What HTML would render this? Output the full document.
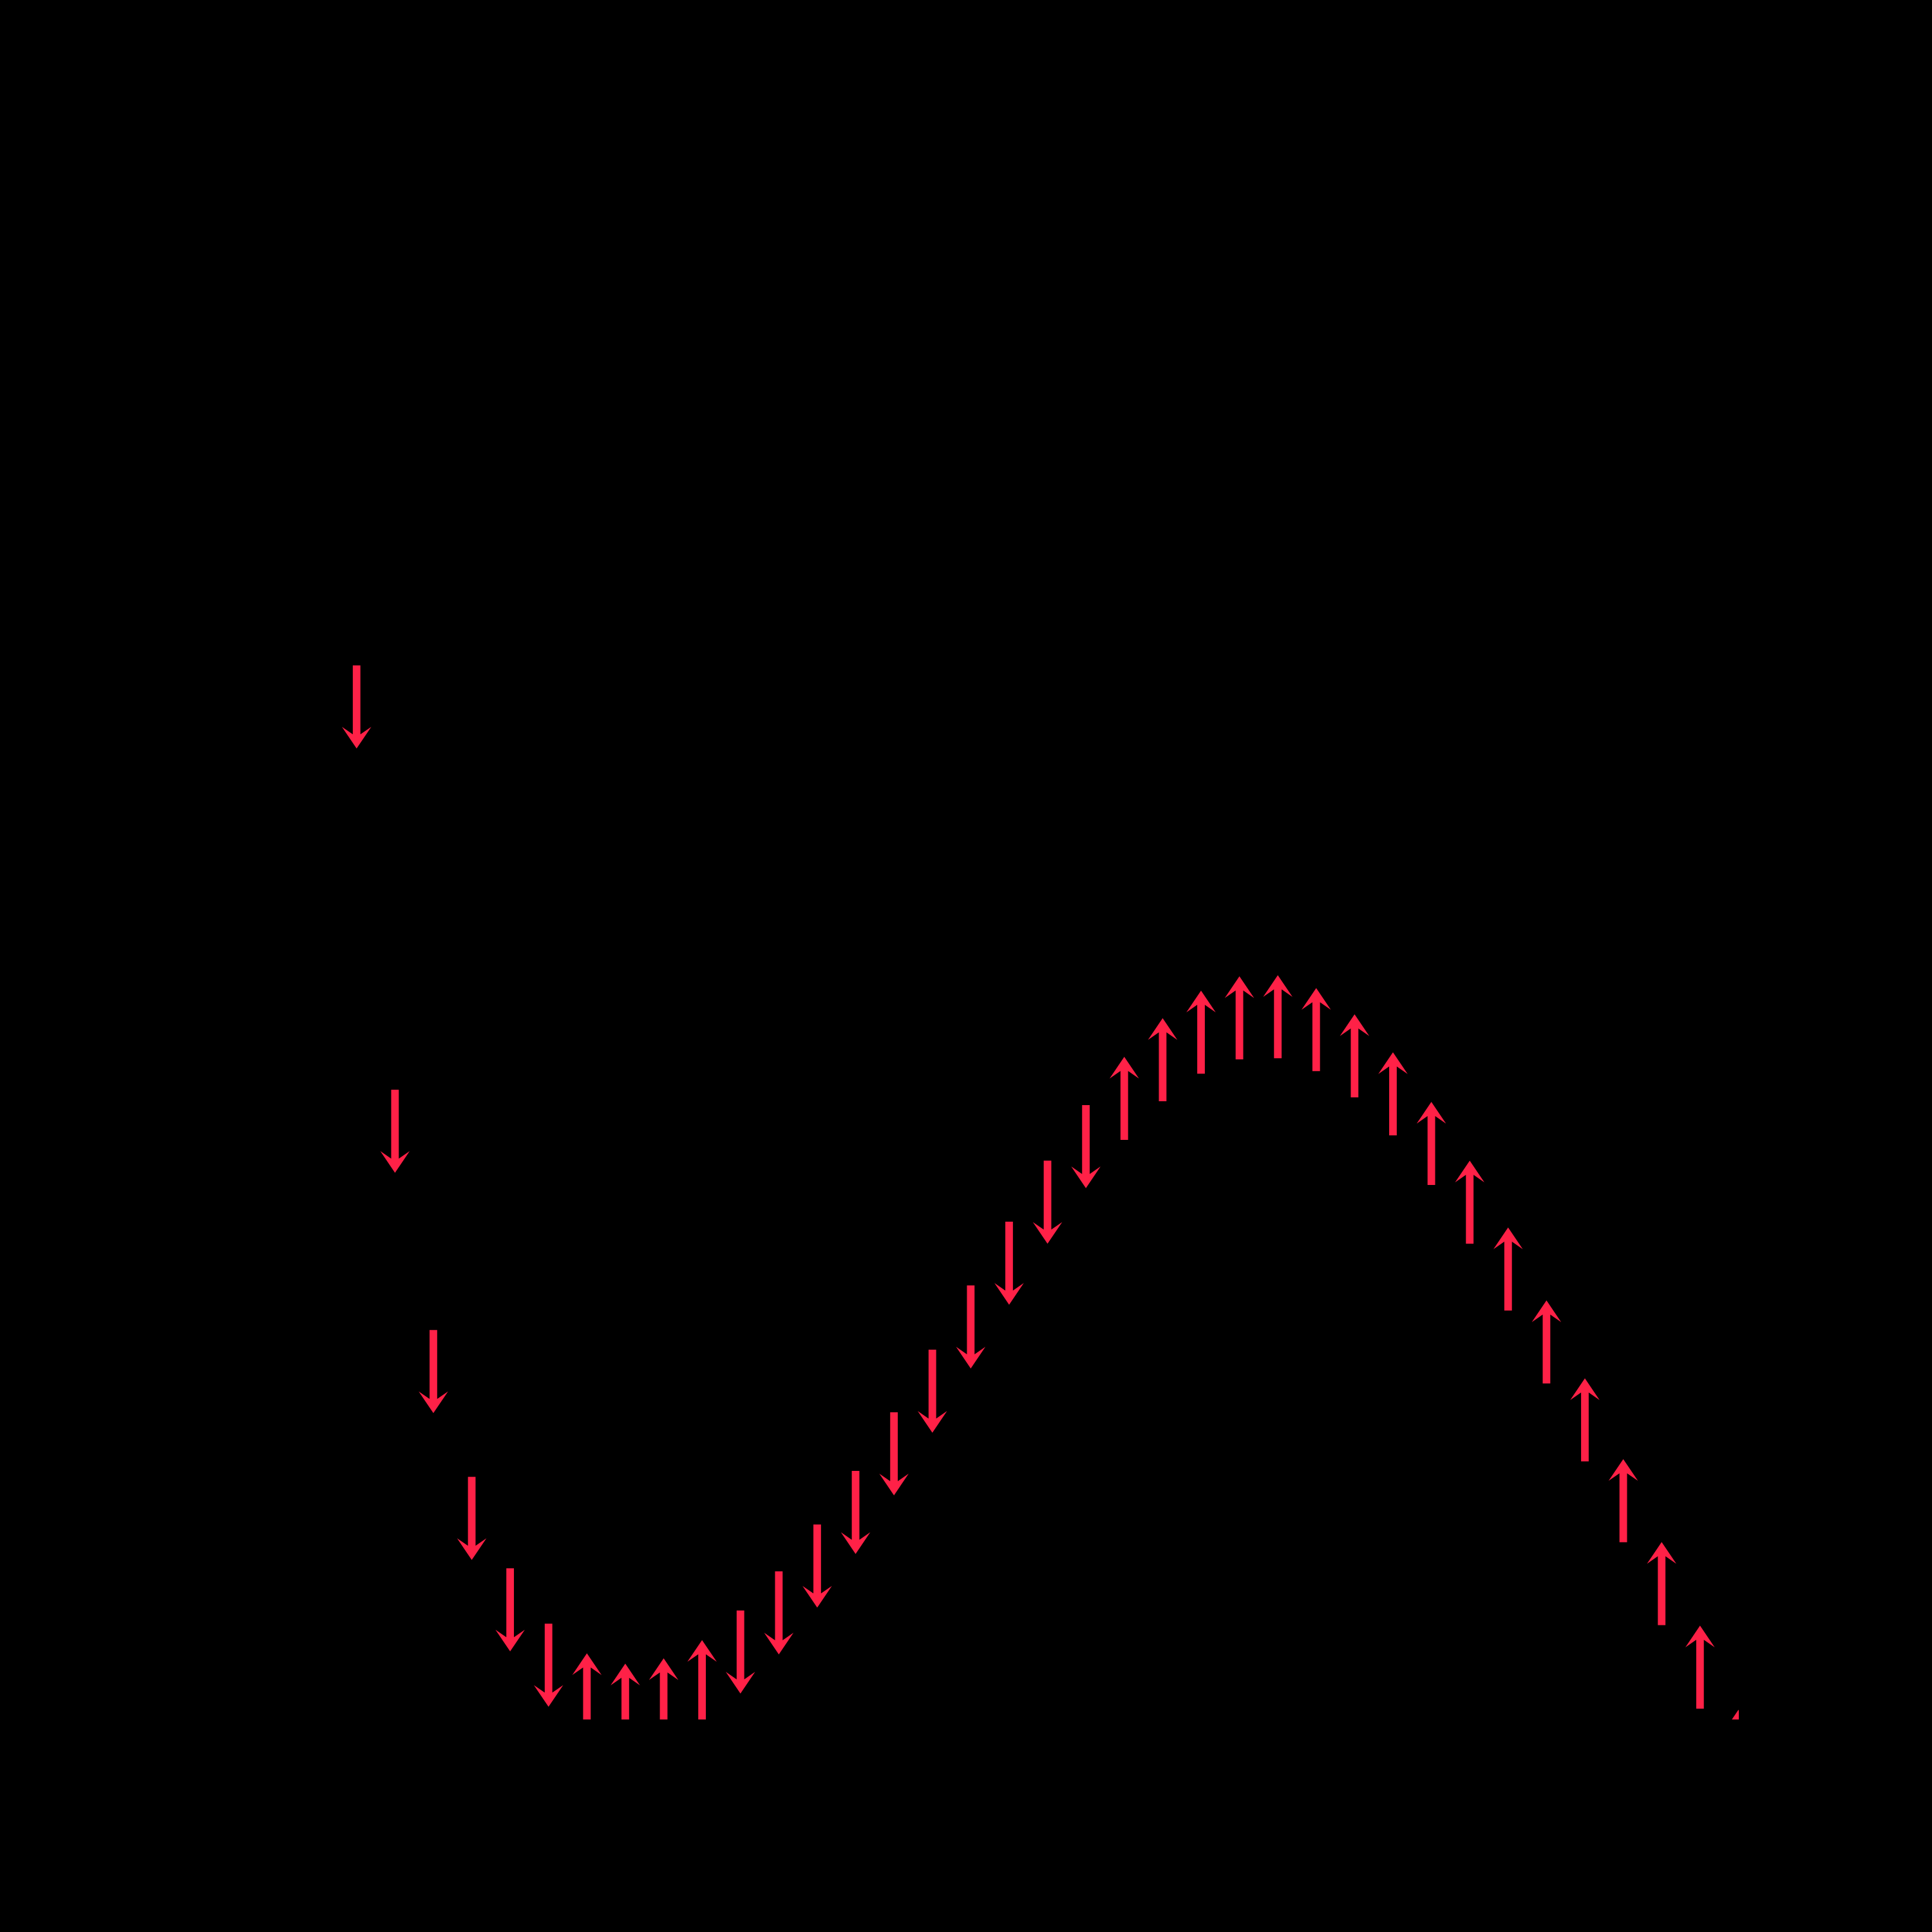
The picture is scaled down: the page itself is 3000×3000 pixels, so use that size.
<!DOCTYPE html>
<html lang="en">
<head>
<meta charset="utf-8">
<title>Quiver chart</title>
<style>
  html, body { margin: 0; padding: 0; background: #000; }
  #chart { display: block; width: 3000px; height: 3000px; background: #000; }
</style>
</head>
<body>
<svg id="chart" xmlns="http://www.w3.org/2000/svg" width="3000" height="3000" viewBox="0 0 3000 3000">
  <defs>
    <clipPath id="plot-clip"><rect x="300" y="330" width="2400" height="2340"></rect></clipPath>
  </defs>
  <rect x="0" y="0" width="3000" height="3000" fill="#000000"></rect>
  <rect x="300" y="330" width="2400" height="2340" fill="none" stroke="#000000" stroke-width="4"></rect>
  <g id="arrows" clip-path="url(#plot-clip)"></g>
</svg>
<script>
// Sample positions along the x axis
const xValues = [0,1,2,3,4,5,6,7,8,9,10,11,12,13,14,15,16,17,18,19,20,21,22,23,24,25,26,27,28,29,30,31,32,33,34,35,36];
// Arrow tail height
const yValues = [1636.7,977.9,604.7,376.7,234.7,148.7,-26.3,-42.3,-34,-5.7,169.3,230,302.7,386,477,574.3,674,773,867.7,954,900,960,1002.7,1025,1026.7,1006.7,966,907,830,738.7,635,521.7,400.7,275.3,146.5,16.7,-114];
// Vector direction at each sample: 1 points up, -1 points down
const directions = [-1,-1,-1,-1,-1,-1,1,1,1,1,-1,-1,-1,-1,-1,-1,-1,-1,-1,-1,1,1,1,1,1,1,1,1,1,1,1,1,1,1,1,1,1];

const xDomain = [-4.257, 36.01];
const yDomain = [0, 2340];
const plotLeft = 300, plotRight = 2700, plotBottom = 2670, plotTop = 330;

function xScale(v) {
  return plotLeft + (v - xDomain[0]) / (xDomain[1] - xDomain[0]) * (plotRight - plotLeft);
}
function yScale(v) {
  return plotBottom - (v - yDomain[0]) / (yDomain[1] - yDomain[0]) * (plotBottom - plotTop);
}

const arrowLength = 129;
const shaftHalf = 5.9;
const headHalf = 22.8;
const headLength = 33.7;
const notchLength = 22;

function arrowPoints(x, tailY, dir) {
  const s = -dir; // screen direction: negative y is up
  const tipY = tailY + s * arrowLength;
  const wingY = tipY - s * headLength;
  const notchY = tipY - s * notchLength;
  return [
    [x - shaftHalf, tailY],
    [x - shaftHalf, notchY],
    [x - headHalf, wingY],
    [x, tipY],
    [x + headHalf, wingY],
    [x + shaftHalf, notchY],
    [x + shaftHalf, tailY]
  ].map(function (p) { return p[0].toFixed(2) + ',' + p[1].toFixed(2); }).join(' ');
}

const group = document.getElementById('arrows');
xValues.forEach(function (xv, i) {
  const el = document.createElementNS('http://www.w3.org/2000/svg', 'polygon');
  el.setAttribute('points', arrowPoints(xScale(xv), yScale(yValues[i]), directions[i]));
  el.setAttribute('fill', '#ff2147');
  
  
  group.appendChild(el);
});
</script>
</body>
</html>
